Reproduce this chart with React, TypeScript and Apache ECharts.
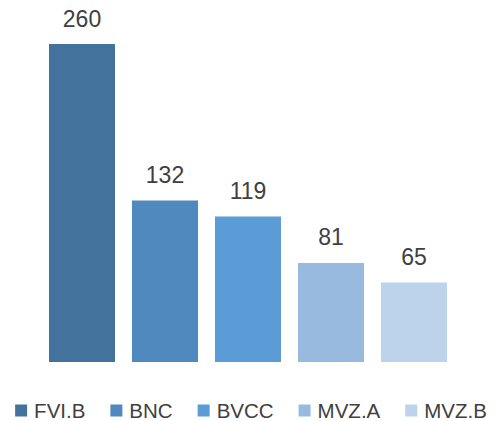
import React, { useEffect, useRef } from "react";
import * as echarts from "echarts";

const categories = ["FVI.B", "BNC", "BVCC", "MVZ.A", "MVZ.B"];
const values = [260, 132, 119, 81, 65];
const colors = ["#43729d", "#4f89bd", "#5b9bd6", "#99badf", "#bdd2eb"];

export default function App() {
  const ref = useRef<HTMLDivElement>(null);
  useEffect(() => {
    if (!ref.current) return;
    const chart = echarts.init(ref.current, undefined, { renderer: "svg" });
    const series = categories.map((name, i) => ({
      name,
      type: "bar",
      stack: "all",
      barWidth: 66,
      itemStyle: { color: colors[i] },
      label: {
        show: true,
        position: "top",
        distance: 14,
        fontSize: 23,
        color: "#404040",
        fontFamily: "Liberation Sans, Arial, sans-serif",
      },
      data: categories.map((_, j) => (j === i ? values[i] : "-")),
    }));
    chart.setOption({
      animation: false,
      grid: { left: 40.5, width: 415, top: 44, height: 318 },
      xAxis: {
        type: "category",
        data: categories,
        show: false,
      },
      yAxis: { type: "value", min: 0, max: 260, show: false },
      legend: {
        data: categories,
        top: 400,
        padding: 0,
        left: "center",
        itemWidth: 12,
        itemHeight: 12,
        itemGap: 25,
        icon: "rect",
        textStyle: {
          fontSize: 20.5,
          lineHeight: 18,
          color: "#404040",
          fontFamily: "Liberation Sans, Arial, sans-serif",
          padding: [0, 0, 0, 2],
        },
      },
      series,
    });
    return () => chart.dispose();
  }, []);
  return (
    <div
      ref={ref}
      style={{ position: "fixed", left: 0, top: 0, width: 502, height: 421, background: "#fff" }}
    />
  );
}
